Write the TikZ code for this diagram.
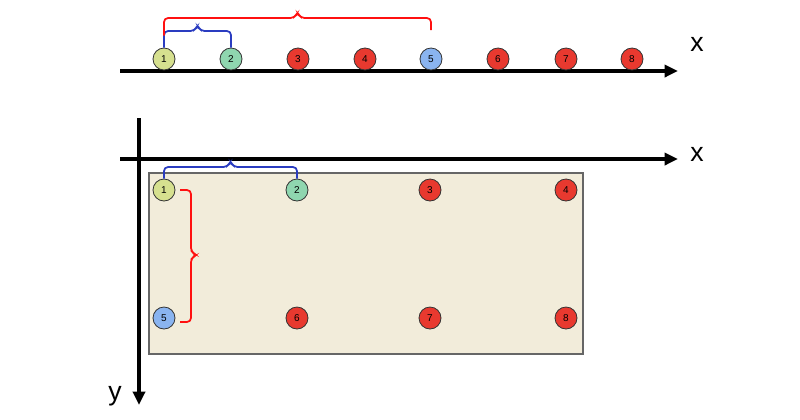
\documentclass[tikz,border=0pt]{standalone}
\usepackage{fontspec}
\setmainfont{Liberation Sans}
\usetikzlibrary{arrows.meta}
\definecolor{cyl}{HTML}{D6E08F}
\definecolor{cgr}{HTML}{8FD6AF}
\definecolor{crd}{HTML}{E8392F}
\definecolor{cbl}{HTML}{8AB4F0}
\definecolor{bred}{HTML}{FF1010}
\definecolor{bblu}{HTML}{2A3CC0}
\definecolor{paper}{HTML}{F2ECDA}
\begin{document}
\begin{tikzpicture}[x=0.75pt,y=-0.75pt,
  ball/.style={circle,draw=black!80,line width=0.6pt,minimum size=16.5pt,inner sep=0pt,font=\fontsize{7.5}{8}\selectfont},
  axis/.style={line width=2.6pt,-{Triangle[length=10pt,width=9pt]}},
  lab/.style={font=\fontsize{20}{22}\selectfont},
  brace/.style={line width=1.3pt,rounded corners=3pt}]
\useasboundingbox (0,0) rectangle (800,419);
% top
\draw[axis] (120,71) -- (678,71);
\node[lab] (xt) at (697,44) {x};
\foreach \n/\x/\c in {1/164/cyl,2/231/cgr,3/298/crd,4/365/crd,5/431/cbl,6/498/crd,7/566/crd,8/632/crd}
  \node[ball,fill=\c] (t\n) at (\x,59) {\n};
\draw[brace,bblu] (t1.north) -- (164,31) -- (194.5,31) -- (197.5,25) -- (200.5,31) -- (231,31) -- (t2.north);
\draw[brace,bred] (t1.north) ++(0,-12) -- (164,18) -- (294.5,18) -- (297.5,12) -- (300.5,18) -- (431,18) -- (431,30);
% bottom
\fill[paper] (149,173) rectangle (583,354);
\draw[black!60,line width=0.8pt] (149,173) rectangle (583,354);
\draw[axis] (120,159) -- (678,159);
\draw[axis] (139,118) -- (139,405);
\node[lab] (xb) at (697,154) {x};
\node[lab] (yb) at (115,396) {y};
\foreach \n/\x/\y/\c in {1/164/190/cyl,2/297/190/cgr,3/430/190/crd,4/566/190/crd,5/164/318/cbl,6/297/318/crd,7/430/318/crd,8/566/318/crd}
  \node[ball,fill=\c] (b\n) at (\x,\y) {\n};
\draw[brace,bblu] (b1.north) -- (164,167) -- (227.5,167) -- (230.5,161) -- (233.5,167) -- (297,167) -- (b2.north);
\draw[brace,bred] (180,190) -- (191,190) -- (191,252) -- (197,255) -- (191,258) -- (191,322) -- (180,322);
\end{tikzpicture}
\end{document}
